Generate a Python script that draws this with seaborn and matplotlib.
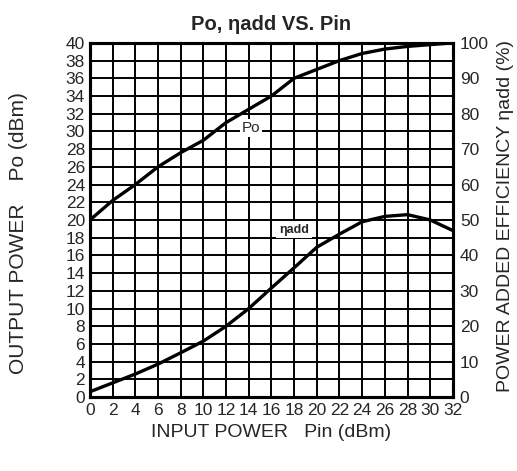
import numpy as np
import pandas as pd
import seaborn as sns
import matplotlib.pyplot as plt

pin = [0, 2, 4, 6, 8, 10, 12, 14, 16, 18, 20, 22, 24, 26, 28, 30, 32]
po = [20, 22.2, 24, 26, 27.6, 29, 31, 32.5, 34, 36, 37, 38, 38.8, 39.3, 39.6, 39.8, 40]
eta = [1.5, 4, 6.5, 9.3, 12.5, 15.8, 20, 25, 30.8, 36.5, 42.3, 46, 49.5, 51, 51.5, 50, 47]

df = pd.DataFrame({'pin': pin, 'po': po, 'eta': eta})

sns.set_style('white')
plt.rcParams['font.family'] = ['Liberation Sans', 'DejaVu Sans']

fig = plt.figure(figsize=(5.17, 4.71), dpi=100)
ax = fig.add_axes([0.174, 0.157, 0.702, 0.752])
ax2 = ax.twinx()

sns.lineplot(ax=ax, x='pin', y='po', data=df, color='black', linewidth=2.4, zorder=5)
sns.lineplot(ax=ax2, x='pin', y='eta', data=df, color='black', linewidth=2.4, zorder=5)

ax.set_xlim(0, 32)
ax.set_ylim(0, 40)
ax2.set_ylim(0, 100)
ax.set_xticks(np.arange(0, 33, 2))
ax.set_yticks(np.arange(0, 41, 2))
ax2.set_yticks(np.arange(0, 101, 10))
ax.grid(True, color='black', linewidth=1.4)
ax.set_axisbelow(True)

ax.tick_params(axis='x', length=0, labelsize=12.5, pad=4.5)
ax.tick_params(axis='y', length=0, labelsize=12.5, pad=3.5)
ax2.tick_params(axis='y', length=0, labelsize=12.5, pad=5)
for a in (ax, ax2):
    for s in a.spines.values():
        s.set_linewidth(2.2)
        s.set_color('black')

ax.set_xlabel('INPUT POWER   Pin (dBm)', fontsize=14)
ax.set_ylabel('OUTPUT POWER    Po (dBm)', fontsize=15)
ax2.set_ylabel('POWER ADDED EFFICIENCY \u03b7add (%)', fontsize=14)
ax.xaxis.set_label_coords(0.5, -0.076)
ax.yaxis.set_label_coords(-0.171, 0.463)
ax2.yaxis.set_label_coords(1.121, 0.51)
ax.set_title('Po, \u03b7add VS. Pin', fontsize=14.5, fontweight='bold', pad=9)

ax.text(14.2, 30.4, 'Po', fontsize=11, ha='center', va='center', zorder=6,
        bbox=dict(facecolor='white', edgecolor='none', pad=1.5))
ax.text(18, 18.9, '\u03b7add', fontsize=9, fontweight='bold', ha='center', va='center', zorder=6,
        bbox=dict(facecolor='white', edgecolor='none', pad=2))

fig.savefig('out.png', dpi=100)
